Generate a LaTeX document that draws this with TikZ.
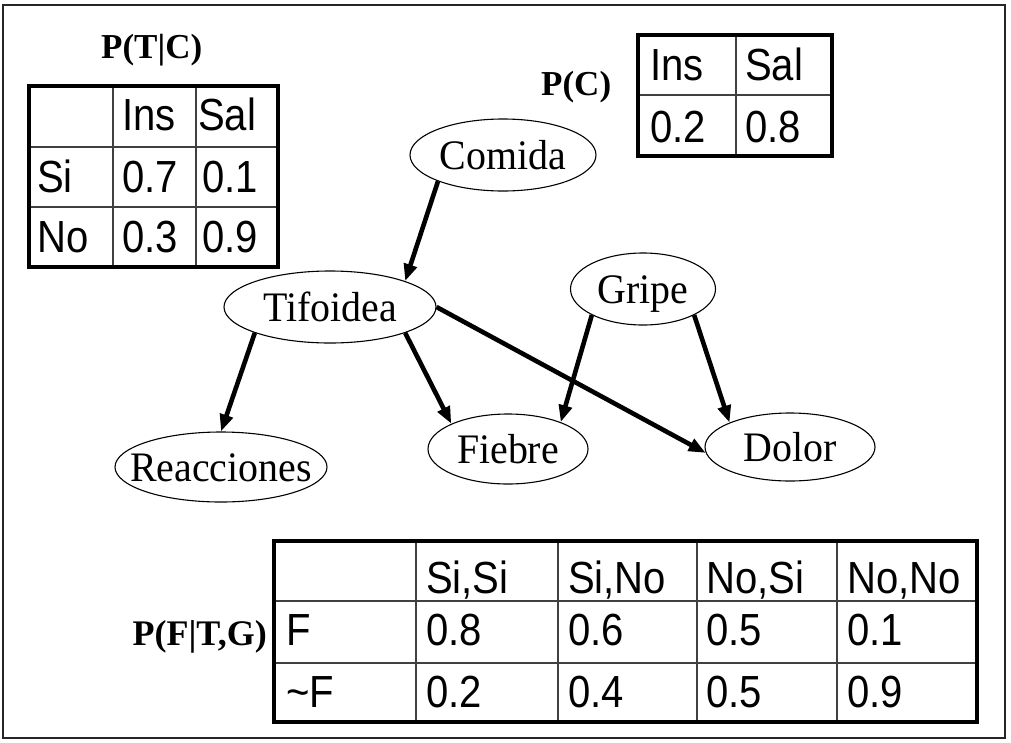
\documentclass[tikz,border=0pt]{standalone}
\usepackage{fontspec}
\setmainfont{Liberation Serif}
\newfontfamily\tabfont[FakeStretch=0.89]{Liberation Sans}
\newfontfamily\ellfont[FakeStretch=0.95]{Liberation Serif}
\usetikzlibrary{shapes.geometric,arrows.meta}
\begin{document}
\begin{tikzpicture}[x=1pt,y=-1pt,
  ell/.style={ellipse,draw,line width=1.1pt,inner sep=0pt,text height=29pt,text depth=0pt,font=\ellfont\fontsize{42}{42}\selectfont},
  arr/.style={line width=4.6pt,-{Triangle[length=17pt,width=13pt]}},
  cell/.style={anchor=base west,inner sep=0pt,font=\tabfont\fontsize{45}{45}\selectfont},
  ttl/.style={anchor=base west,inner sep=0pt,font=\bfseries\fontsize{35}{35}\selectfont},
  thinline/.style={line width=1.4pt,black!75},
  outerline/.style={line width=3.5pt}
]
\useasboundingbox (0,0) rectangle (1011,742);
\draw[line width=2pt,black!85] (3,5) rectangle (1005,738);

% ---- P(T|C) table
\node[ttl] (ttc) at (101,58) {P(T|C)};
\draw[thinline] (113,86) -- (113,267) (196,86) -- (196,267) (29,147) -- (278,147) (29,207) -- (278,207);
\draw[outerline] (29,86) rectangle (278,267);
\node[cell] (a12) at (122,130) {Ins};
\node[cell] (a13) at (198,130) {Sal};
\node[cell] (a21) at (37,192) {Si};
\node[cell] (a22) at (122,192) {0.7};
\node[cell] (a23) at (202,192) {0.1};
\node[cell] (a31) at (37,252) {No};
\node[cell] (a32) at (122,252) {0.3};
\node[cell] (a33) at (202,252) {0.9};

% ---- P(C) table
\node[ttl] (tc) at (541,95) {P(C)};
\draw[thinline] (736,35) -- (736,156) (638,95) -- (832,95);
\draw[outerline] (638,35) rectangle (832,156);
\node[cell] (b11) at (650,80) {Ins};
\node[cell] (b12) at (745,80) {Sal};
\node[cell] (b21) at (650,142) {0.2};
\node[cell] (b22) at (745,142) {0.8};

% ---- P(F|T,G) table
\node[ttl,anchor=base east,font=\bfseries\fontsize{36}{36}\selectfont] (tfg) at (267,645) {P(F|T,G)};
\draw[thinline] (416,541) -- (416,722) (558,541) -- (558,722) (697,541) -- (697,722) (837,541) -- (837,722)
  (274,601) -- (977,601) (274,663) -- (977,663);
\draw[outerline] (274,541) rectangle (977,722);
\node[cell] (c12) at (426,593) {Si,Si};
\node[cell] (c13) at (568,593) {Si,No};
\node[cell] (c14) at (706,593) {No,Si};
\node[cell] (c15) at (847,593) {No,No};
\node[cell] (c21) at (286,645) {F};
\node[cell] (c22) at (426,645) {0.8};
\node[cell] (c23) at (568,645) {0.6};
\node[cell] (c24) at (706,645) {0.5};
\node[cell] (c25) at (847,645) {0.1};
\node[cell] (c31) at (286,707) {\char`\~F};
\node[cell] (c32) at (426,707) {0.2};
\node[cell] (c33) at (568,707) {0.4};
\node[cell] (c34) at (706,707) {0.5};
\node[cell] (c35) at (847,707) {0.9};

% ---- network
\node[ell,minimum width=186pt,minimum height=72pt] (comida) at (503,155) {\makebox[0pt]{Comida}};
\node[ell,minimum width=212pt,minimum height=72pt] (tif) at (330,307) {\makebox[0pt]{Tifoidea}};
\node[ell,minimum width=145pt,minimum height=72pt] (gripe) at (643,289) {\makebox[0pt]{Gripe}};
\node[ell,minimum width=212pt,minimum height=70pt] (reac) at (221,467) {\makebox[0pt]{Reacciones}};
\node[ell,minimum width=160pt,minimum height=70pt] (fiebre) at (508,449) {\makebox[0pt]{Fiebre}};
\node[ell,minimum width=170pt,minimum height=68pt] (dolor) at (790,447) {\makebox[0pt]{Dolor}};

\draw[arr] (comida.202) -- (tif.19);
\draw[arr] (tif.199) -- (reac.90);
\draw[arr] (tif.341) -- (fiebre.156);
\draw[arr] (tif.0) -- (dolor.184);
\draw[arr] (gripe.207) -- (fiebre.27);
\draw[arr] (gripe.333) -- (dolor.158);
\end{tikzpicture}
\end{document}
